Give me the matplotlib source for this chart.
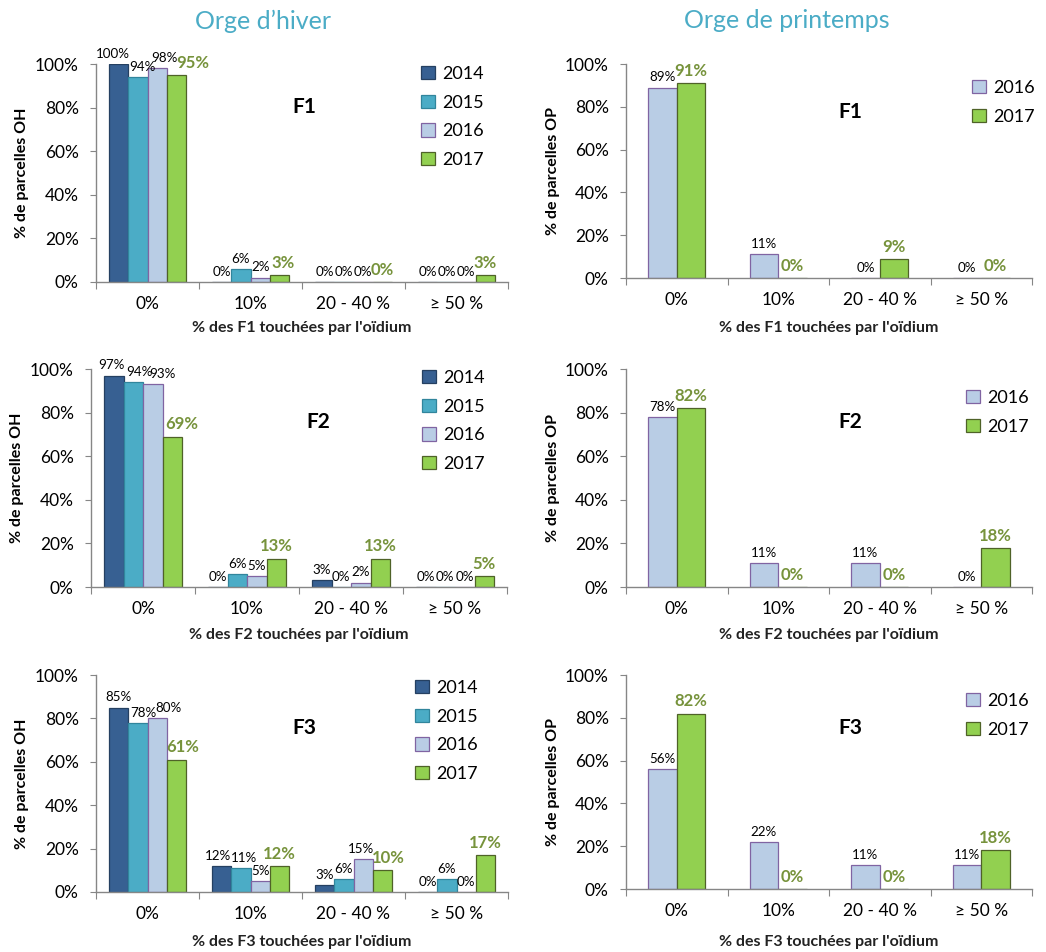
import matplotlib
matplotlib.use("Agg")
import matplotlib.pyplot as plt
import numpy as np

plt.rcParams['font.family'] = ['Lato', 'DejaVu Sans']

# Data: % of plots per class of leaf area touched by powdery mildew
classes = ['0%', '10%', '20 - 40 %', '\u2265 50 %']

oh_years = ['2014', '2015', '2016', '2017']
oh_f1 = [[100, 0, 0, 0], [94, 6, 0, 0], [98, 2, 0, 0], [95, 3, 0, 3]]
oh_f2 = [[97, 0, 3, 0], [94, 6, 0, 0], [93, 5, 2, 0], [69, 13, 13, 5]]
oh_f3 = [[85, 12, 3, 0], [78, 11, 6, 6], [80, 5, 15, 0], [61, 12, 10, 17]]

op_years = ['2016', '2017']
op_f1 = [[89, 11, 0, 0], [91, 0, 9, 0]]
op_f2 = [[78, 11, 11, 0], [82, 0, 0, 18]]
op_f3 = [[56, 22, 11, 11], [82, 0, 0, 18]]

fills = {'2014': '#376092', '2015': '#4BACC6', '2016': '#B9CDE5', '2017': '#92D050'}
edges = {'2014': '#254061', '2015': '#31859C', '2016': '#8064A2', '2017': '#4F6228'}
green_txt = '#77933C'
axis_grey = '#868686'

W, H = 1046, 952
fig = plt.figure(figsize=(W / 100, H / 100), dpi=100)


def px_box(x0, ytop, x1, ybot):
    return [x0 / W, 1 - ybot / H, (x1 - x0) / W, (ybot - ytop) / H]


def panel(box, series, years, bar_w, leaf, who, leg_xy, tag_xy, ylab_x, xlab_y, nudge=None):
    # nudge: {(series index, class index): horizontal label shift in px}
    nudge = nudge or {}
    ax = fig.add_axes(px_box(*box))
    x = np.arange(len(classes))
    n = len(years)
    for i, (yr, vals) in enumerate(zip(years, series)):
        off = (i - (n - 1) / 2) * bar_w
        ax.bar(x + off, vals, bar_w, color=fills[yr], edgecolor=edges[yr],
               linewidth=0.9, label=yr)
        for j, (xi, v) in enumerate(zip(x + off, vals)):
            dx = nudge.get((i, j), 0) * 0.72
            if yr == '2017':
                ax.annotate('%d%%' % v, (xi, v), xytext=(dx, 3), textcoords='offset points',
                            ha='center', va='bottom', fontsize=12, fontweight='bold',
                            color=green_txt)
            else:
                ax.annotate('%d%%' % v, (xi, v), xytext=(dx, 3), textcoords='offset points',
                            ha='center', va='bottom', fontsize=9.6, color='black')
    ax.set_xlim(-0.5, 3.5)
    ax.set_ylim(0, 100)
    ax.spines['top'].set_visible(False)
    ax.spines['right'].set_visible(False)
    for s in ['left', 'bottom']:
        ax.spines[s].set_color(axis_grey)
        ax.spines[s].set_linewidth(1.0)
    ax.set_yticks(np.arange(0, 101, 20))
    ax.set_yticklabels(['%d%%' % v for v in range(0, 101, 20)])
    ax.tick_params(axis='y', length=4.5, color=axis_grey, labelsize=12.5, pad=8)
    ax.set_xticks(np.arange(-0.5, 4, 1))
    ax.set_xticklabels([])
    ax.set_xticks(x, minor=True)
    ax.set_xticklabels(classes, minor=True)
    ax.tick_params(axis='x', which='major', length=5, color=axis_grey)
    ax.tick_params(axis='x', which='minor', length=0, labelsize=12.5, pad=10)
    ax.legend(loc='upper left', bbox_to_anchor=(leg_xy[0] / W, 1 - leg_xy[1] / H),
              bbox_transform=fig.transFigure, frameon=False, fontsize=13,
              handlelength=0.75, handleheight=0.75, handletextpad=0.4,
              labelspacing=0.7, borderpad=0, borderaxespad=0)
    fig.text(tag_xy[0] / W, 1 - tag_xy[1] / H, leaf, fontsize=15, fontweight='bold',
             ha='center', va='center')
    fig.text(ylab_x / W, 1 - (box[1] + box[3]) / 2 / H, '% de parcelles ' + who,
             rotation=90, fontsize=11.5, fontweight='bold', ha='center', va='center')
    fig.text((box[0] + box[2]) / 2 / W, 1 - xlab_y / H,
             "% des " + leaf + " touch\u00e9es par l'o\u00efdium",
             fontsize=11.5, fontweight='bold', ha='center', va='center', color='#222222')
    return ax


oh_w = 0.1875
op_w = 0.283

panel((96, 64, 508, 282), oh_f1, oh_years, oh_w, 'F1', 'OH', (421, 66), (304, 107), 22, 328,
      nudge={(0, 0): -6, (1, 0): 5, (2, 0): 7, (3, 0): 16, (3, 1): 4})
panel((91, 369, 507, 587), oh_f2, oh_years, oh_w, 'F2', 'OH', (422, 370), (318, 422), 17, 635,
      nudge={(0, 0): -2, (1, 0): 6, (2, 0): 10, (3, 0): 9})
panel((96, 675, 508, 892), oh_f3, oh_years, oh_w, 'F3', 'OH', (415, 680), (304, 728), 22, 942,
      nudge={(1, 0): 6, (2, 0): 11, (3, 0): 6, (0, 1): -4, (1, 1): 3, (2, 2): -2, (3, 2): 6})

panel((626, 64, 1032, 278), op_f1, op_years, op_w, 'F1', 'OP', (972, 80), (850, 112), 553, 328)
panel((626, 369, 1032, 587), op_f2, op_years, op_w, 'F2', 'OP', (966, 390), (850, 422), 553, 635)
panel((626, 675, 1032, 889), op_f3, op_years, op_w, 'F3', 'OP', (966, 693), (850, 728), 553, 942)

title_col = '#4BACC6'
fig.text(263 / W, 1 - 21 / H, "Orge d\u2019hiver", fontsize=18, color=title_col,
         ha='center', va='center')
fig.text(787 / W, 1 - 21 / H, "Orge de printemps", fontsize=18, color=title_col,
         ha='center', va='center')

fig.savefig('out.png', dpi=100)
